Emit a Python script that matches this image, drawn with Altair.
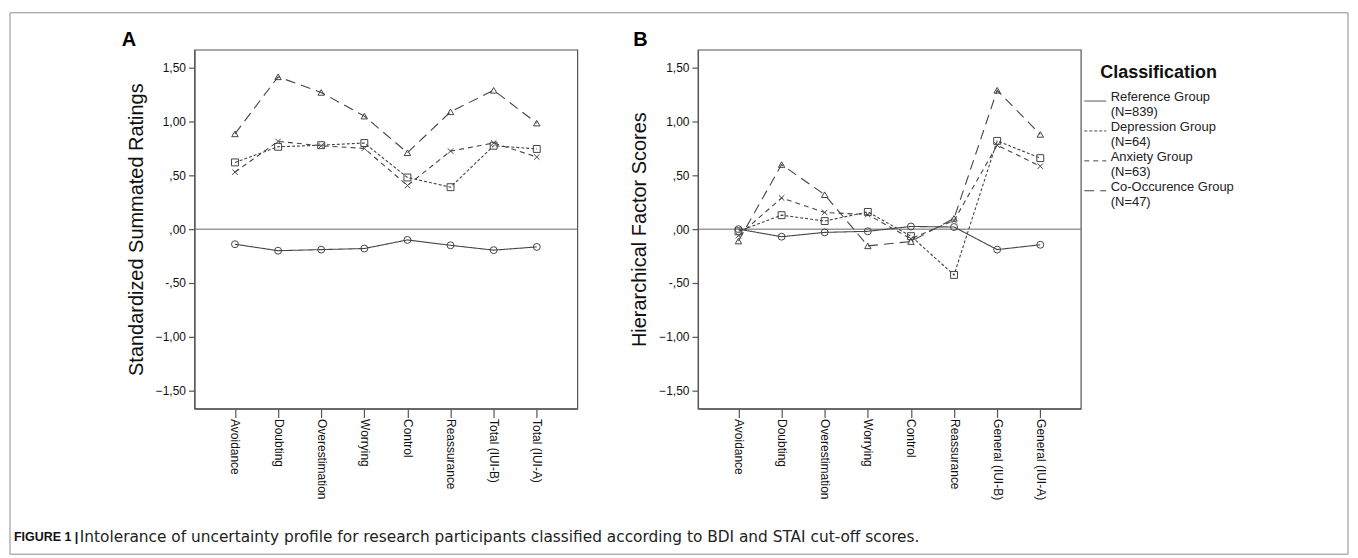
import altair as alt
import pandas as pd

cats_a = ["Avoidance", "Doubting", "Overestimation", "Worrying", "Control",
          "Reassurance", "Total (IUI-B)", "Total (IUI-A)"]
cats_b = ["Avoidance", "Doubting", "Overestimation", "Worrying", "Control",
          "Reassurance", "General (IUI-B)", "General (IUI-A)"]
groups = ["Reference Group|(N=839)", "Depression Group|(N=64)",
          "Anxiety Group|(N=63)", "Co-Occurence Group|(N=47)"]

ref_a = [-0.14, -0.20, -0.19, -0.18, -0.10, -0.15, -0.195, -0.165]
dep_a = [0.62, 0.765, 0.78, 0.80, 0.48, 0.39, 0.775, 0.745]
anx_a = [0.53, 0.815, 0.775, 0.75, 0.405, 0.725, 0.80, 0.67]
coo_a = [0.885, 1.415, 1.27, 1.05, 0.71, 1.09, 1.29, 0.985]

ref_b = [0.0, -0.07, -0.03, -0.02, 0.025, 0.02, -0.19, -0.145]
dep_b = [-0.02, 0.13, 0.075, 0.16, -0.065, -0.425, 0.82, 0.66]
anx_b = [-0.06, 0.29, 0.155, 0.135, -0.09, 0.08, 0.78, 0.585]
coo_b = [-0.11, 0.60, 0.32, -0.155, -0.115, 0.10, 1.29, 0.88]

y_ticks = [-1.5, -1.0, -0.5, 0.0, 0.5, 1.0, 1.5]
title_a = "Standardized Summated Ratings"
title_b = "Hierarchical Factor Scores"
caption_bold = "FIGURE 1 |"
caption_text = ("Intolerance of uncertainty profile for research participants "
                "classified according to BDI and STAI cut-off scores.")

FONT = "Liberation Sans"
INK = "#444444"

dash_scale = alt.Scale(domain=groups, range=[[1, 0], [3, 2], [5, 4], [10, 6]])
x_path = "M-1,-1L1,1M-1,1L1,-1"
marker_shapes = ["circle", "square", x_path, "triangle-up"]
marker_sizes = [48, 48, 30, 42]

label_expr = ("abs(datum.value) < 1 ? (datum.value < 0 ? '-' : '') + ',' + "
              "format(abs(datum.value) * 100, '02d') : "
              "replace(format(datum.value, '.2f'), '.', ',')")


def make_df(cats, series):
    rows = []
    for gi, (g, vals) in enumerate(zip(groups, series)):
        for i, (c, v) in enumerate(zip(cats, vals)):
            rows.append({"cat": c, "idx": i, "grp": g, "gi": gi, "val": v})
    return pd.DataFrame(rows)


def panel(cats, series, ytitle, letter, letter_dx, with_legend, extras):
    df = make_df(cats, series)
    x = alt.X("cat:N", sort=cats,
              scale=alt.Scale(type="point", padding=0.94, domain=cats),
              axis=alt.Axis(title=None, labelAngle=90, tickSize=9, labelPadding=1,
                            labelFontSize=12, labelFont=FONT, labelColor="#111"))
    y = alt.Y("val:Q",
              scale=alt.Scale(domain=[-1.667, 1.667], nice=False, zero=False),
              axis=alt.Axis(values=y_ticks, labelExpr=label_expr, title=ytitle,
                            titleFontSize=20, titleFont=FONT, titleFontWeight="normal",
                            titleColor="#111", titlePadding=9, tickSize=6,
                            labelPadding=3, labelFontSize=12, labelFont=FONT,
                            labelColor="#111", grid=False))
    base = alt.Chart(df)
    if with_legend:
        leg = alt.Legend(title="Classification", orient="none", legendX=387, legendY=14,
                         titleFontSize=18, titleFont=FONT, titleFontWeight="bold",
                         titleColor="#111", titleAnchor="middle", titlePadding=8,
                         labelFontSize=13, labelFont=FONT, labelColor="#222",
                         labelExpr="split(datum.label, '|')", labelLimit=400,
                         labelBaseline="alphabetic",
                         symbolType="stroke", symbolSize=484, symbolStrokeWidth=1,
                         symbolStrokeColor=INK, labelOffset=4, rowPadding=-4, padding=0)
        dash = alt.StrokeDash("grp:N", scale=dash_scale, legend=leg)
    else:
        dash = alt.StrokeDash("grp:N", scale=dash_scale, legend=None)
    zero = alt.Chart(pd.DataFrame({"z": [0.0]})).mark_rule(
        color="#666666", strokeWidth=1).encode(y="z:Q")
    lines = base.mark_line(color=INK, strokeWidth=1.1).encode(
        x=x, y=y, strokeDash=dash, detail="grp:N", order=alt.Order("idx:Q"))
    pts = []
    for gi, (shp, sz) in enumerate(zip(marker_shapes, marker_sizes)):
        pts.append(base.transform_filter(alt.datum.gi == gi).mark_point(
            filled=False, color=INK, strokeWidth=1, opacity=1, shape=shp, size=sz
        ).encode(x=x, y=y))
    one = alt.Chart(pd.DataFrame({"a": [0]}))
    lab = one.mark_text(align="left", baseline="alphabetic", font=FONT, fontSize=20,
                        fontWeight="bold", color="#000").encode(
        x=alt.value(letter_dx), y=alt.value(-4), text=alt.value(letter))
    layers = [zero, lines] + pts + [lab] + extras
    return alt.layer(*layers).properties(width=384, height=360)


one = alt.Chart(pd.DataFrame({"a": [0]}))
frame = one.mark_rect(fill="transparent", stroke="#8c8c8c", strokeWidth=1).encode(
    x=alt.value(-185), x2=alt.value(1157), y=alt.value(-37), y2=alt.value(506))
cap1 = one.mark_text(align="left", baseline="middle", font=FONT, fontSize=12.5,
                     fontWeight="bold", color="#111").encode(
    x=alt.value(-181), y=alt.value(489), text=alt.value(caption_bold))
cap2 = one.mark_text(align="left", baseline="middle", font="DejaVu Sans", fontSize=15.4,
                     color="#222").encode(
    x=alt.value(-115), y=alt.value(489), text=alt.value(caption_text))

pa = panel(cats_a, [ref_a, dep_a, anx_a, coo_a], title_a, "A", -73, False, [frame, cap1, cap2])
pb = panel(cats_b, [ref_b, dep_b, anx_b, coo_b], title_b, "B", -65, True, [])

chart = alt.hconcat(pa, pb, spacing=121, bounds="flush").resolve_legend(
    strokeDash="independent"
).properties(
    padding={"left": 0, "top": 2, "right": 0, "bottom": 0}, background="white"
).configure_view(stroke="#555555", strokeWidth=1.2).configure_axis(
    domainColor="#555555", tickColor="#555555", domainWidth=1.2, tickWidth=1.2)

chart.save("out.html", embed_options={"renderer": "svg", "actions": False})
